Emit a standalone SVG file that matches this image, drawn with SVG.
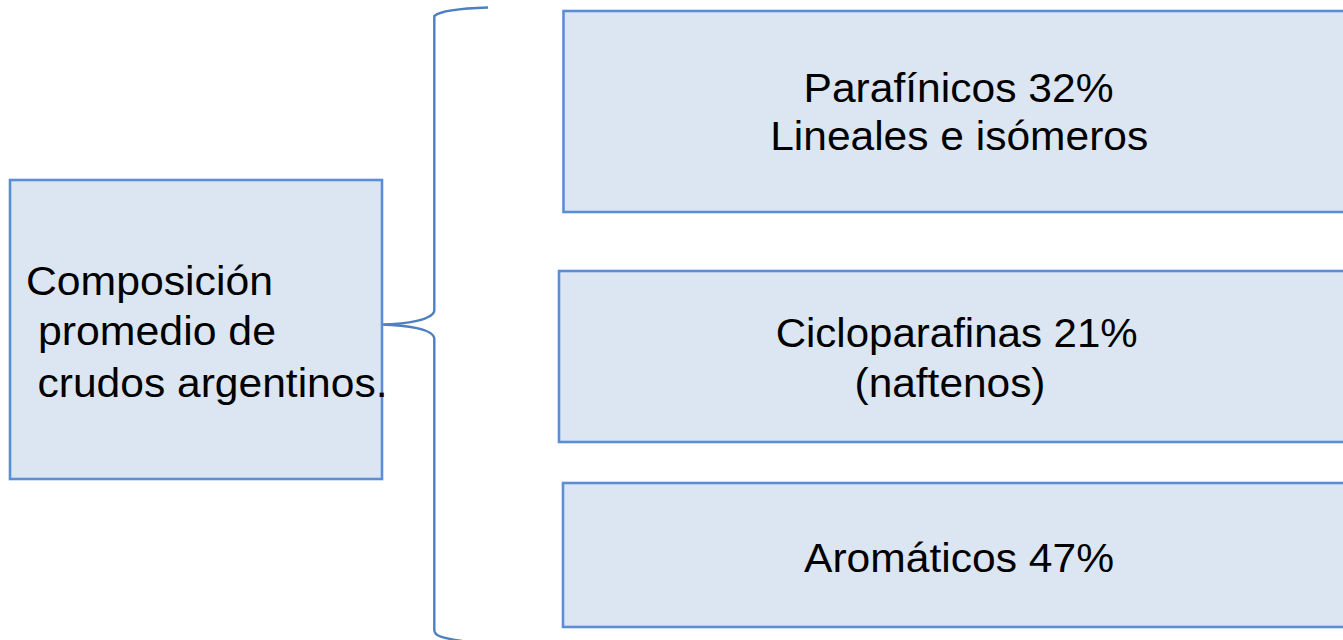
<svg xmlns="http://www.w3.org/2000/svg" width="1343" height="640" viewBox="0 0 1343 640">
<style>
.box{fill:#dce6f2;stroke:#5a8fd8;stroke-width:2.6}
.t{font-family:"Liberation Sans",Arial,sans-serif;font-size:40px;fill:#000}
.m{text-anchor:middle}
.brace{fill:none;stroke:#4f7fbf;stroke-width:2.4}
</style>
<rect width="1343" height="640" fill="#ffffff"/>
<g id="connectors">
<path class="brace" d="M488,7.5 C456,8.5 440,11 434.3,16 L434.3,310 C434.3,320 405,324 382,324.5 C405,325 434.3,329 434.3,339 L434.3,630 C434.3,636 442,638 462,641"/>
</g>
<g id="node-main">
<rect class="box" x="10" y="180" width="372" height="299"/>
<text class="t" x="26" y="295" textLength="247" lengthAdjust="spacingAndGlyphs">Composición</text>
<text class="t" x="38" y="345" textLength="238" lengthAdjust="spacingAndGlyphs">promedio de</text>
<text class="t" x="37.5" y="396.5" textLength="350" lengthAdjust="spacingAndGlyphs">crudos argentinos.</text>
</g>
<g id="node-parafinicos">
<rect class="box" x="563.5" y="11" width="800" height="201"/>
<text class="t m" x="958.5" y="102" textLength="310" lengthAdjust="spacingAndGlyphs">Parafínicos 32%</text>
<text class="t m" x="959.2" y="150" textLength="378" lengthAdjust="spacingAndGlyphs">Lineales e isómeros</text>
</g>
<g id="node-cicloparafinas">
<rect class="box" x="559" y="271" width="800" height="171"/>
<text class="t m" x="956.7" y="347" textLength="362" lengthAdjust="spacingAndGlyphs">Cicloparafinas 21%</text>
<text class="t m" x="950" y="397" textLength="191" lengthAdjust="spacingAndGlyphs">(naftenos)</text>
</g>
<g id="node-aromaticos">
<rect class="box" x="563" y="483" width="800" height="144"/>
<text class="t m" x="959" y="572" textLength="310" lengthAdjust="spacingAndGlyphs">Aromáticos 47%</text>
</g>
</svg>
